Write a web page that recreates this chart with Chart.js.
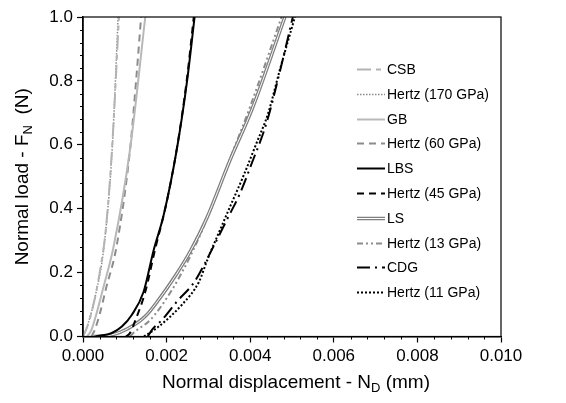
<!DOCTYPE html>
<html>
<head>
<meta charset="utf-8">
<script src="https://cdn.jsdelivr.net/npm/chart.js@4.4.0/dist/chart.umd.min.js"></script>
<style>
  body { margin: 0; background: #fff; }
  #wrap { width: 566px; height: 403px; }
</style>
</head>
<body>
<div id="wrap"><canvas id="loadChart"></canvas></div>
<script>
// Normal displacement (mm) / normal load (N)
const csbX = [0, 0.0001, 0.00025, 0.0004, 0.00055, 0.0007, 0.00086];
const csbY = [0, 0.03, 0.1, 0.2, 0.34, 0.6, 1.0];
const hertz170X = [0, 0.00012, 0.0003, 0.0005, 0.0007, 0.00084];
const hertz170Y = [0, 0.04, 0.13, 0.28, 0.59, 1.0];
const gbX = [0.0001, 0.0002, 0.00032, 0.00048, 0.00073, 0.00113, 0.00149];
const gbY = [0, 0.02, 0.07, 0.15, 0.28, 0.59, 1.0];
const hertz60X = [0.0002, 0.00028, 0.0004, 0.00055, 0.0008, 0.00113, 0.00127, 0.00139];
const hertz60Y = [0, 0.02, 0.07, 0.15, 0.28, 0.59, 0.8, 1.0];
const lbsX = [0.0003, 0.00069, 0.00093, 0.00117, 0.00145, 0.00169, 0.00193, 0.00225, 0.00249, 0.00267];
const lbsY = [0, 0.011, 0.031, 0.068, 0.14, 0.27, 0.38, 0.59, 0.8, 1.0];
const hertz45X = [0.00103, 0.00112, 0.00125, 0.00149, 0.00172, 0.002, 0.00226, 0.00248, 0.00265];
const hertz45Y = [0, 0.01, 0.05, 0.14, 0.27, 0.42, 0.6, 0.8, 1.0];
const lsX = [0.00025, 0.00069, 0.00109, 0.00149, 0.00181, 0.00221, 0.00258, 0.00296, 0.00352, 0.00404, 0.00483];
const lsY = [0, 0.005, 0.026, 0.063, 0.115, 0.19, 0.27, 0.37, 0.553, 0.71, 1.0];
const hertz13X = [0.00112, 0.00125, 0.00161, 0.0021, 0.00258, 0.00294, 0.0035, 0.004, 0.00475];
const hertz13Y = [0, 0.016, 0.052, 0.14, 0.255, 0.36, 0.55, 0.72, 1.0];
const cdgX = [0.00155, 0.00165, 0.00189, 0.00225, 0.00266, 0.00308, 0.00344, 0.00376, 0.00404, 0.00439, 0.00473, 0.00502];
const cdgY = [0, 0.021, 0.052, 0.11, 0.17, 0.271, 0.365, 0.449, 0.543, 0.668, 0.84, 1.0];
const hertz11X = [0.00146, 0.00181, 0.00237, 0.00277, 0.00299, 0.00328, 0.00352, 0.00383, 0.00415, 0.00443, 0.00472, 0.00507];
const hertz11Y = [0, 0.031, 0.1, 0.17, 0.245, 0.334, 0.407, 0.5, 0.605, 0.699, 0.84, 1.0];

const xTicks = [0, 0.002, 0.004, 0.006, 0.008, 0.01];
const yTicks = [0, 0.2, 0.4, 0.6, 0.8, 1.0];

const FONT = "'Liberation Sans', Arial, sans-serif";

// zip x and y arrays into points
function toPoints(xs, ys) {
  return xs.map((x, i) => ({ x: x, y: ys[i] }));
}

function series(label, xs, ys, color, width, dash) {
  return {
    label: label,
    data: toPoints(xs, ys),
    borderColor: color,
    borderWidth: width,
    borderDash: dash,
    pointRadius: 0,
    fill: false,
    cubicInterpolationMode: 'monotone'
  };
}

// first dataset ends up on top, so the white core of LS comes before its grey body
const datasets = [
  series('CSB', csbX, csbY, '#b3b3b3', 2, [14, 5, 5, 5]),
  series('Hertz (170 GPa)', hertz170X, hertz170Y, '#8a8a8a', 1.5, [1.5, 1.5]),
  series('GB', gbX, gbY, '#b8b8b8', 2, []),
  series('Hertz (60 GPa)', hertz60X, hertz60Y, '#8c8c8c', 2, [7, 5]),
  series('LBS', lbsX, lbsY, '#000000', 2, []),
  series('Hertz (45 GPa)', hertz45X, hertz45Y, '#000000', 2, [7, 5]),
  series('LS-core', lsX, lsY, '#ffffff', 1, []),
  series('LS', lsX, lsY, '#7f7f7f', 3.5, []),
  series('Hertz (13 GPa)', hertz13X, hertz13Y, '#8c8c8c', 2, [6, 3, 2, 3, 2, 3]),
  series('CDG', cdgX, cdgY, '#000000', 2, [13, 5, 2, 5]),
  series('Hertz (11 GPa)', hertz11X, hertz11Y, '#000000', 2, [2, 2])
];

const legendOrder = ['CSB', 'Hertz (170 GPa)', 'GB', 'Hertz (60 GPa)', 'LBS', 'Hertz (45 GPa)',
  'LS', 'Hertz (13 GPa)', 'CDG', 'Hertz (11 GPa)'];

// frame, minor ticks, axis titles with subscripts, legend inside the plot
const decorPlugin = {
  id: 'decor',
  afterDraw(chart) {
    const ctx = chart.ctx;
    const a = chart.chartArea;
    const xs = chart.scales.x;
    const ys = chart.scales.y;
    ctx.save();

    // box round the plot
    ctx.strokeStyle = '#000';
    ctx.lineWidth = 1.2;
    ctx.setLineDash([]);
    ctx.strokeRect(a.left, a.top, a.right - a.left, a.bottom - a.top);

    // minor ticks
    ctx.lineWidth = 1;
    ctx.beginPath();
    for (let i = 1; i < 25; i++) {
      if (i % 5 === 0) continue;
      const px = Math.round(xs.getPixelForValue(i * 0.0004)) + 0.5;
      ctx.moveTo(px, a.bottom);
      ctx.lineTo(px, a.bottom + 3);
    }
    for (let i = 1; i < 25; i++) {
      if (i % 5 === 0) continue;
      const py = Math.round(ys.getPixelForValue(i * 0.04)) + 0.5;
      ctx.moveTo(a.left - 3, py);
      ctx.lineTo(a.left, py);
    }
    ctx.stroke();

    // axis titles
    ctx.fillStyle = '#000';
    ctx.textBaseline = 'alphabetic';
    drawSubTitle(ctx, ['Normal displacement - N', 'D', ' (mm)'], (a.left + a.right) / 2 + 4, 388);
    ctx.save();
    ctx.translate(28, (a.top + a.bottom) / 2);
    ctx.rotate(-Math.PI / 2);
    drawSubTitle(ctx, ['Normal load - F', 'N', '  (N)'], 0, 0);
    ctx.restore();

    // legend
    const lx = 357, lw = 28, top = 69, step = 24.8;
    ctx.font = '14px ' + FONT;
    ctx.textBaseline = 'middle';
    ctx.textAlign = 'left';
    legendOrder.forEach((name, i) => {
      const y = Math.round(top + i * step) + 0.5;
      const ds = datasets.find(d => d.label === name);
      ctx.setLineDash(ds.borderDash);
      ctx.strokeStyle = ds.borderColor;
      ctx.lineWidth = ds.borderWidth;
      ctx.beginPath();
      ctx.moveTo(lx, y);
      ctx.lineTo(lx + lw, y);
      ctx.stroke();
      if (name === 'LS') {
        const core = datasets.find(d => d.label === 'LS-core');
        ctx.strokeStyle = core.borderColor;
        ctx.lineWidth = core.borderWidth;
        ctx.beginPath();
        ctx.moveTo(lx, y);
        ctx.lineTo(lx + lw, y);
        ctx.stroke();
      }
      ctx.setLineDash([]);
      ctx.fillStyle = '#000';
      ctx.fillText(name, lx + lw + 2, y + 1);
    });
    ctx.restore();
  }
};

// text, subscript, text; centred on x
function drawSubTitle(ctx, parts, cx, baseY) {
  const big = '19px ' + FONT;
  const small = '13px ' + FONT;
  ctx.textAlign = 'left';
  ctx.font = big;
  const w1 = ctx.measureText(parts[0]).width;
  const w3 = ctx.measureText(parts[2]).width;
  ctx.font = small;
  const w2 = ctx.measureText(parts[1]).width;
  let x = cx - (w1 + w2 + w3) / 2;
  ctx.font = big;
  ctx.fillText(parts[0], x, baseY);
  x += w1;
  ctx.font = small;
  ctx.fillText(parts[1], x, baseY + 4);
  x += w2;
  ctx.font = big;
  ctx.fillText(parts[2], x, baseY);
}

const chartCtx = document.getElementById('loadChart').getContext('2d');

const loadChart = new Chart(chartCtx, {
  type: 'line',
  data: { datasets: datasets },
  options: {
    responsive: true,
    maintainAspectRatio: false,
    animation: false,
    layout: { padding: { left: 0, right: 65, top: 17, bottom: 0 } },
    plugins: {
      legend: { display: false },
      tooltip: { enabled: false }
    },
    scales: {
      x: {
        type: 'linear',
        min: 0,
        max: 0.01,
        afterFit: (scale) => { scale.height = 66.5; },
        afterBuildTicks: (scale) => { scale.ticks = xTicks.map(v => ({ value: v })); },
        grid: { drawOnChartArea: false, tickLength: 6, tickColor: '#000', tickWidth: 1.2 },
        border: { color: '#000', width: 1.5 },
        ticks: {
          color: '#000',
          padding: 4,
          maxRotation: 0,
          font: { family: FONT, size: 17 },
          callback: (v) => Number(v).toFixed(3)
        }
      },
      y: {
        type: 'linear',
        min: 0,
        max: 1,
        afterFit: (scale) => { scale.width = 83; },
        afterBuildTicks: (scale) => { scale.ticks = yTicks.map(v => ({ value: v })); },
        grid: { drawOnChartArea: false, tickLength: 6, tickColor: '#000', tickWidth: 1.2 },
        border: { color: '#000', width: 1.5 },
        ticks: {
          color: '#000',
          padding: 4,
          font: { family: FONT, size: 17 },
          callback: (v) => Number(v).toFixed(1)
        }
      }
    }
  },
  plugins: [decorPlugin]
});
</script>
</body>
</html>
